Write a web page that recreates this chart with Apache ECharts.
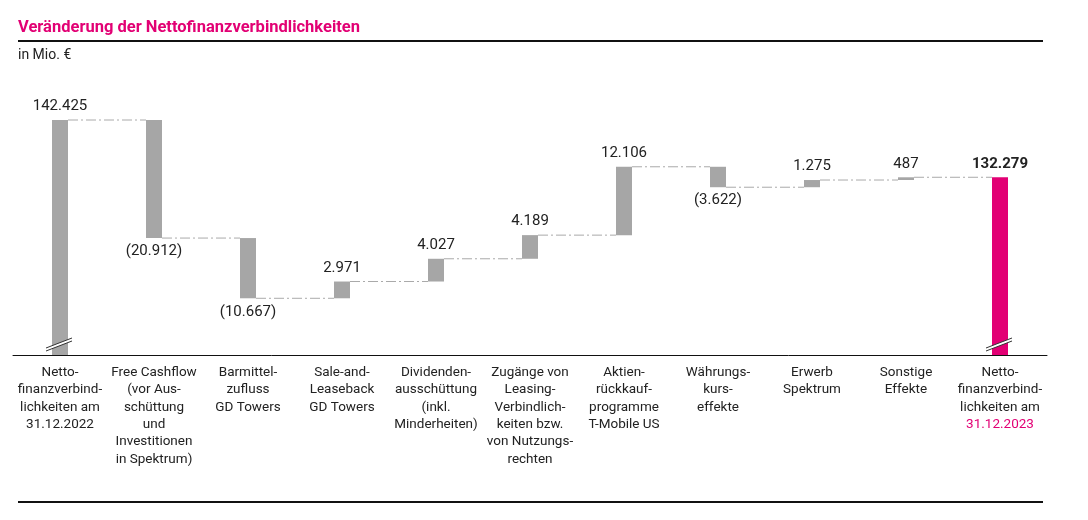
<!DOCTYPE html>
<html>
<head>
<meta charset="utf-8">
<script src="https://cdn.jsdelivr.net/npm/echarts@6/dist/echarts.min.js"></script>
<style>
  html, body { margin: 0; padding: 0; background: #fff; }
  #chart { width: 1088px; height: 520px; }
</style>
</head>
<body>
<div id="chart"></div>
<script>
// Werte in Mio. €
const categories = [
  'Netto-\nfinanzverbind-\nlichkeiten am\n31.12.2022',
  'Free Cashflow\n(vor Aus-\nschüttung\nund\nInvestitionen\nin Spektrum)',
  'Barmittel-\nzufluss\nGD Towers',
  'Sale-and-\nLeaseback\nGD Towers',
  'Dividenden-\nausschüttung\n(inkl.\nMinderheiten)',
  'Zugänge von\nLeasing-\nVerbindlich-\nkeiten bzw.\nvon Nutzungs-\nrechten',
  'Aktien-\nrückkauf-\nprogramme\nT-Mobile US',
  'Währungs-\nkurs-\neffekte',
  'Erwerb\nSpektrum',
  'Sonstige\nEffekte',
  'Netto-\nfinanzverbind-\nlichkeiten am\n31.12.2023'
]
const startValue = 142425
const changes = [-20912, -10667, 2971, 4027, 4189, 12106, -3622, 1275, 487]
const endValue = 132279

const Y_MIN = 100800
const GREY = '#a6a6a6'
const MAGENTA = '#e20074'

// Treppe aufbauen
const baseData = [0]
const barData = [startValue]
const levels = [startValue] // Stand nach jedem Balken
let total = startValue
changes.forEach(d => {
  const next = total + d
  baseData.push(Math.min(total, next))
  barData.push(Math.abs(d))
  total = next
  levels.push(total)
})
baseData.push(0)
barData.push(endValue)

const fmt = v => String(Math.abs(v)).replace(/\B(?=(\d{3})+(?!\d))/g, '.')

const barItems = barData.map((v, i) => {
  const last = i === barData.length - 1
  const isNeg = i > 0 && !last && changes[i - 1] < 0
  return {
    value: v,
    itemStyle: { color: last ? MAGENTA : GREY },
    label: {
      position: isNeg ? 'bottom' : 'top',
      fontWeight: last ? 'bold' : 'normal',
      formatter: () => {
        if (i === 0) return fmt(startValue)
        if (last) return fmt(endValue)
        const d = changes[i - 1]
        return d < 0 ? '(' + fmt(d) + ')' : fmt(d)
      }
    }
  }
})

const connectorData = levels.map((lv, i) => [i, lv])

const chart = echarts.init(document.getElementById('chart'))
const option = {
  animation: false,
  textStyle: { fontFamily: 'Roboto, "Noto Sans", sans-serif' },
  title: {
    text: 'Veränderung der Nettofinanzverbindlichkeiten',
    left: 13,
    top: 14,
    textStyle: { color: MAGENTA, fontSize: 16.5, fontWeight: 'bold' },
    subtext: 'in Mio. €',
    subtextStyle: { color: '#222', fontSize: 14 },
    itemGap: 12
  },
  graphic: [
    { type: 'rect', shape: { x: 18, y: 40, width: 1025, height: 2 }, style: { fill: '#111' } },
    { type: 'rect', shape: { x: 18, y: 501, width: 1025, height: 2 }, style: { fill: '#111' } }
  ],
  grid: { left: 13, right: 41, top: 120, bottom: 165 },
  xAxis: {
    type: 'category',
    data: categories,
    axisLine: { lineStyle: { color: '#111', width: 1 } },
    axisTick: { show: false },
    axisLabel: {
      interval: 0,
      margin: 9,
      color: '#222',
      fontSize: 13.5,
      lineHeight: 17.3,
      formatter: (val, idx) => {
        if (idx !== categories.length - 1) return val
        const parts = val.split('\n')
        const lastLine = parts.pop()
        return parts.join('\n') + '\n{m|' + lastLine + '}'
      },
      rich: { m: { color: MAGENTA, fontSize: 13.5, lineHeight: 17.3 } }
    }
  },
  yAxis: {
    type: 'value',
    min: Y_MIN,
    max: startValue,
    show: false,
    splitLine: { show: false }
  },
  series: [
    {
      type: 'bar',
      stack: 'w',
      barWidth: 16,
      itemStyle: { color: 'transparent' },
      emphasis: { disabled: true },
      data: baseData
    },
    {
      type: 'bar',
      stack: 'w',
      barWidth: 16,
      emphasis: { disabled: true },
      label: { show: true, color: '#222', fontSize: 15, distance: 6 },
      data: barItems
    },
    {
      // Verbindungslinien
      type: 'custom',
      data: connectorData,
      silent: true,
      z: 1,
      renderItem: (params, api) => {
        const i = api.value(0)
        if (i >= categories.length - 1) return null
        const a = api.coord([i, api.value(1)])
        const b = api.coord([i + 1, api.value(1)])
        return {
          type: 'line',
          shape: { x1: a[0] + 8, y1: a[1], x2: b[0] - 8, y2: b[1] },
          style: { stroke: '#aaa', lineWidth: 1, lineDash: [10, 3, 2, 3] }
        }
      }
    },
    {
      // Achsenbruch
      type: 'custom',
      data: [[0], [categories.length - 1]],
      silent: true,
      z: 5,
      renderItem: (params, api) => {
        const c = api.coord([api.value(0), Y_MIN])
        const x = c[0]
        const y = c[1] - 10
        return {
          type: 'group',
          children: [
            { type: 'polygon', shape: { points: [[x - 14, y + 3], [x + 12, y - 7], [x + 12, y - 4], [x - 14, y + 6]] }, style: { fill: '#fff' } },
            { type: 'line', shape: { x1: x - 14, y1: y + 3, x2: x + 12, y2: y - 7 }, style: { stroke: '#333', lineWidth: 1 } },
            { type: 'line', shape: { x1: x - 14, y1: y + 6, x2: x + 12, y2: y - 4 }, style: { stroke: '#333', lineWidth: 1 } }
          ]
        }
      }
    }
  ]
}
chart.setOption(option)
</script>
</body>
</html>
